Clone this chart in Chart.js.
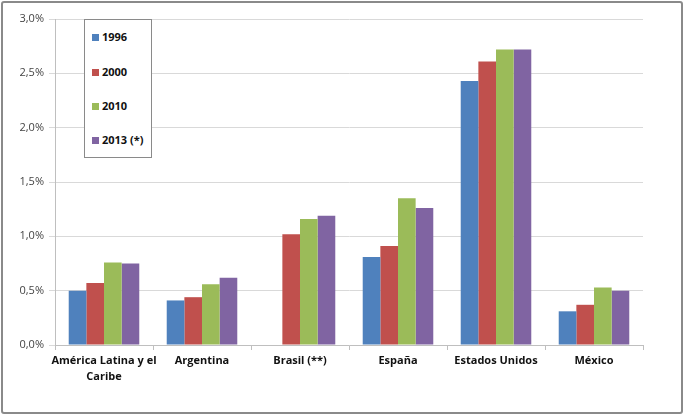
<!DOCTYPE html>
<html>
<head>
<meta charset="utf-8">
<script src="https://cdn.jsdelivr.net/npm/chart.js@4"></script>
<style>
html,body{margin:0;padding:0;background:#fff;}
#wrap{position:relative;width:684px;height:416px;}
#frame{position:absolute;left:1px;top:1px;width:678px;height:409px;border:2px solid #8a8a8a;border-radius:3px;pointer-events:none;}
canvas{position:absolute;left:0;top:0;}
#legend{position:absolute;left:84px;top:19px;width:66px;height:137px;border:1px solid #8a8a8a;background:#fff;font-family:"Open Sans","Liberation Sans",sans-serif;font-size:11px;font-weight:bold;color:#111;}
#legend div{position:absolute;left:7px;height:14px;line-height:14px;white-space:nowrap;}
#legend span{display:inline-block;width:7px;height:7px;margin-right:3px;vertical-align:0px;}
</style>
</head>
<body>
<div id="wrap">
<canvas id="c" width="684" height="416"></canvas>
<div id="legend"></div>
<div id="frame"></div>
</div>
<script>
const categories = [["América Latina y el","Caribe"],"Argentina","Brasil (**)","España","Estados Unidos","México"];
const seriesNames = ["1996","2000","2010","2013 (*)"];
const s1996 = [0.50, 0.41, null, 0.81, 2.43, 0.31];
const s2000 = [0.57, 0.44, 1.02, 0.91, 2.61, 0.37];
const s2010 = [0.76, 0.56, 1.16, 1.35, 2.72, 0.53];
const s2013 = [0.75, 0.62, 1.19, 1.26, 2.72, 0.50];
const colors = ["#4F81BD","#C0504D","#9BBB59","#8064A2"];
const yMax = 3.0, yStep = 0.5;

const seriesValues = [s1996, s2000, s2010, s2013];
const datasets = seriesNames.map((n,i)=>({label:n,data:seriesValues[i],backgroundColor:colors[i],borderWidth:0,categoryPercentage:0.72,barPercentage:1.0}));

new Chart(document.getElementById('c'),{
  type:'bar',
  data:{labels:categories,datasets},
  options:{
    responsive:false,animation:false,
    layout:{padding:{left:0,right:41,top:19,bottom:0}},
    plugins:{legend:{display:false},tooltip:{enabled:false}},
    scales:{
      x:{
        grid:{display:true,drawOnChartArea:false,drawTicks:true,tickLength:5,color:'#bfbfbf',offset:true},
        border:{color:'#bfbfbf'},
        ticks:{color:'#111',font:{family:'"Open Sans","Liberation Sans",sans-serif',size:11,weight:'bold',lineHeight:1.45},maxRotation:0,autoSkip:false,padding:3},
        afterFit:(s)=>{s.height=71;}
      },
      y:{
        min:0,max:yMax,
        grid:{color:'#d9d9d9',tickLength:6},
        border:{color:'#bfbfbf'},
        ticks:{stepSize:yStep,color:'#444',font:{family:'"Open Sans","Liberation Sans",sans-serif',size:11},padding:5,
          callback:(v)=>v.toFixed(1).replace('.',',')+'%'},
        afterFit:(s)=>{s.width=55;}
      }
    }
  }
});

const lg=document.getElementById('legend');
const tops=[10,45,79,113];
seriesNames.forEach((n,i)=>{
  const d=document.createElement('div');
  d.style.top=tops[i]+'px';
  d.innerHTML='<span style="background:'+colors[i]+'"></span>'+n;
  lg.appendChild(d);
});
</script>
</body>
</html>
